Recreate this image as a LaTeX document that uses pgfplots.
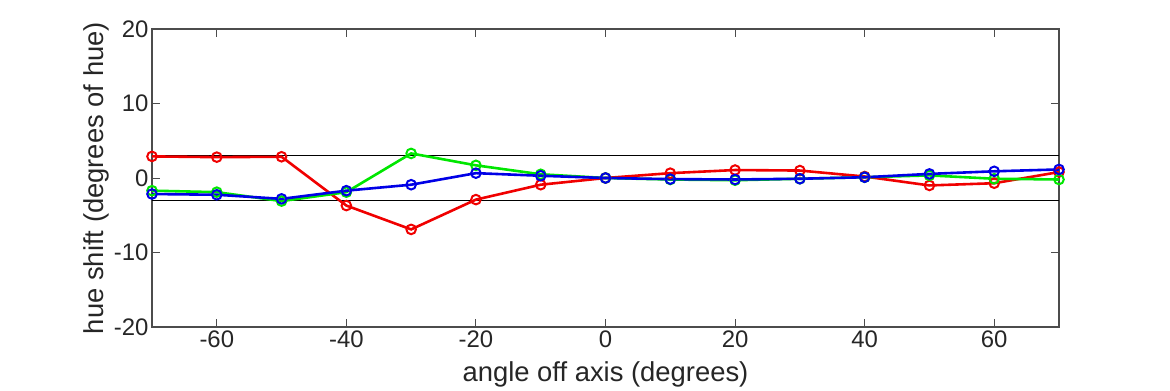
\documentclass[border=0pt]{standalone}
\usepackage{fontspec}
\setmainfont{Liberation Sans}
\usepackage{pgfplots}
\pgfplotsset{compat=1.18}
\begin{document}
\begin{tikzpicture}
\begin{axis}[
  at={(0,0)}, anchor=south west,
  width=907bp, height=298bp, scale only axis,
  xmin=-70, xmax=70, ymin=-20, ymax=20,
  xtick={-60,-40,...,60}, ytick={-20,-10,0,10,20},
  tick align=inside, major tick length=8bp,
  axis line style={draw=black!70, line width=1.1bp},
  tick style={draw=black!70, line width=1bp},
  /pgf/number format/assume math mode=true,
  tick label style={font=\fontsize{24}{26}\selectfont, text=black!85},
  label style={font=\fontsize{27.5}{30}\selectfont, text=black!85},
  xlabel={angle off axis (degrees)},
  ylabel={hue shift (degrees of hue)},
  xlabel style={at={(axis description cs:0.5,0)}, anchor=center, yshift=-47bp},
  ylabel style={yshift=-2bp},
  every axis plot/.append style={line width=2.6bp, mark=o, mark size=4.8bp, mark options={line width=2bp}},
  clip=false,
]
\addplot[black, line width=1bp, mark=none, forget plot] coordinates {(-70,3) (70,3)};
\addplot[black, line width=1bp, mark=none, forget plot] coordinates {(-70,-3) (70,-3)};
\addplot[color={rgb,255:red,240;green,0;blue,0}] coordinates {
(-70,2.9) (-60,2.8) (-50,2.85) (-40,-3.7) (-30,-6.9) (-20,-2.9) (-10,-0.9) (0,0)
(10,0.65) (20,1.07) (30,1.0) (40,0.2) (50,-1.0) (60,-0.7) (70,0.8)};
\addplot[color={rgb,255:red,0;green,230;blue,0}] coordinates {
(-70,-1.7) (-60,-1.9) (-50,-3.1) (-40,-1.9) (-30,3.3) (-20,1.7) (-10,0.5) (0,0)
(10,-0.2) (20,-0.3) (30,-0.1) (40,0.1) (50,0.35) (60,-0.1) (70,-0.2)};
\addplot[color={rgb,255:red,0;green,0;blue,230}] coordinates {
(-70,-2.15) (-60,-2.25) (-50,-2.8) (-40,-1.7) (-30,-0.9) (-20,0.65) (-10,0.3) (0,0)
(10,-0.15) (20,-0.2) (30,-0.1) (40,0.1) (50,0.55) (60,0.9) (70,1.15)};
\end{axis}
\path (-152bp,-63bp) rectangle (1018bp,327bp);
\end{tikzpicture}
\end{document}
